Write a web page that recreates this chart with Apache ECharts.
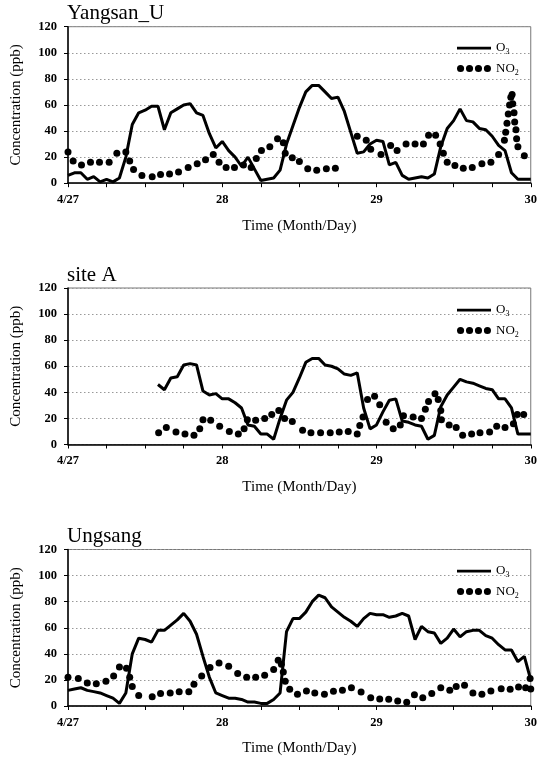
<!DOCTYPE html>
<html>
<head>
<meta charset="utf-8">
<script src="https://cdn.jsdelivr.net/npm/echarts@6/dist/echarts.min.js"></script>
<style>
html,body{margin:0;padding:0;background:#fff;}
#chart{width:540px;height:759px;}
</style>
</head>
<body>
<div id="chart"></div>
<script>
// ---------- DATA ----------
const panelTitles = ['Yangsan_U', 'site A', 'Ungsang'];
const xTickLabels = {0: '4/27', 24: '28', 48: '29', 72: '30'};   // hours since 4/27 00:00
const yTicks = [0, 20, 40, 60, 80, 100, 120];

// O3 hourly values (ppb); start hour for each site
const o3YangsanStart = 0;
const o3Yangsan = [6,8,8,3,5,1,3,1,4,20,45,54,56,59,59,41,54,57,60,61,54,52,38,27,
  32,25,20,13,20,11,2,3,4,10,30,44,58,70,75,75,70,65,66,55,39,23,24,30,
  33,32,14,16,6,3,4,5,4,7,28,42,48,57,48,47,42,41,36,29,25,8,3,3,3];

const o3SiteAStart = 14;
const o3SiteA = [46,42,51,52,61,62,61,41,38,39,
  35,35,32,28,15,14,8,8,4,20,34,40,51,63,66,66,61,60,58,54,53,55,28,12,
  15,25,34,35,18,17,15,14,4,7,29,38,44,50,48,47,45,43,42,35,35,28,8,8,8];

const o3UngsangStart = 0;
const o3Ungsang = [12,13,14,12,11,10,8,6,2,10,40,52,51,49,58,58,62,66,71,65,55,38,22,10,
  8,6,6,5,3,3,2,2,5,10,57,67,67,72,80,85,83,76,72,68,65,61,67,71,
  70,70,68,69,71,69,51,61,57,56,48,52,59,53,57,58,58,54,52,47,43,43,34,38,20];

// NO2 samples: time (hours since 4/27 00:00) and value (ppb)
const no2YangsanTime = [0,0.8,2.1,3.5,4.9,6.4,7.6,9.0,9.6,10.2,11.5,13.1,14.4,15.8,17.2,18.7,20.1,21.4,22.6,23.5,
  24.6,25.9,27.3,28.5,29.3,30.1,31.4,32.6,33.5,33.8,34.9,36.0,37.3,38.7,40.2,41.6,
  45.0,46.4,47.1,48.7,50.2,51.2,52.6,54.0,55.3,56.1,57.2,57.9,58.4,59.0,60.2,61.5,62.9,64.4,65.8,67.0,
  67.9,68.1,68.3,68.5,68.7,68.9,69.1,69.2,69.4,69.5,69.7,69.8,70.0,71.0];
const no2YangsanValue = [24,17,14,16,16,16,23,24,17,10.5,6,5,6.7,7,8.5,12,15,18,22,16,
  12,12,14,12,19,25,28,34,31,23,19.5,16.7,11,10,11,11.5,
  36,33,26,22,29,25,30,30,30,36.7,36.7,30,23,16,13.6,11.5,12,15,16,22,
  33,39,46,53,60,66,68,61,54,47,41,34,28,21];

const no2SiteATime = [14.1,15.3,16.8,18.2,19.6,20.5,21.0,22.2,23.6,25.1,26.5,27.4,27.9,29.2,30.6,31.7,32.8,33.7,34.9,
  36.5,37.8,39.3,40.8,42.2,43.6,45.0,45.4,45.9,46.6,47.7,48.5,49.5,50.6,51.7,52.2,53.7,55.0,55.6,56.1,57.1,57.6,58.0,58.1,
  59.3,60.4,61.4,62.8,64.1,65.6,66.7,68.0,69.3,69.9,70.9];
const no2SiteAValue = [9,13,9.5,8,7,12,19,18.5,14,10,8,12,19,18.5,20,23,26,20,17.7,
  11,9,9,9,9.5,10,8,14.6,21,34.6,37,30.5,17,12,15,22,21,20,27,33,39,34.6,26,19,
  15,13,7,8,9,9.5,14,13,16,23,23];

const no2UngsangTime = [0,1.6,3.0,4.4,5.9,7.1,8.0,9.1,9.6,10.0,11.0,13.1,14.4,15.9,17.3,18.8,19.6,20.8,22.1,23.5,
  25.0,26.4,27.8,29.2,30.6,32.0,32.7,33.2,33.5,33.8,34.5,35.7,37.1,38.4,39.9,41.3,42.7,44.1,45.6,47.1,
  48.5,49.9,51.3,52.7,53.9,55.2,56.6,58.0,59.4,60.4,61.7,63.0,64.4,65.8,67.4,68.8,70.1,71.2,71.9,72];
const no2UngsangValue = [22,21,17.7,17,19,23,30,29,22,15,8,7,9.5,10,11,11,16.7,23,29.5,33,
  30.5,25,22,22,23.6,28,35,32,26,19,12.8,9,11.5,10,9,11.3,12,14,10.8,6.4,
  5.4,5.1,3.8,2.8,8.7,6.4,9.5,14,12,15,16,10,9,11.5,13.3,12.8,14.6,14,21,13];

// ---------- BUILD ----------
function hourly(start, vals){ return vals.map((v,i)=>[start+i, v]); }
function pairs(t, v){ return t.map((x,i)=>[x, v[i]]); }

const panels = [
  {o3: hourly(o3YangsanStart, o3Yangsan), no2: pairs(no2YangsanTime, no2YangsanValue)},
  {o3: hourly(o3SiteAStart, o3SiteA),     no2: pairs(no2SiteATime, no2SiteAValue)},
  {o3: hourly(o3UngsangStart, o3Ungsang), no2: pairs(no2UngsangTime, no2UngsangValue)}
];

const SERIF = '"Liberation Serif", "Times New Roman", serif';
const gridTops = [26.7, 288, 549.5];
const gridH = 156.5;
const titleTops = [3, 265, 526];
const legendTops = [41.5, 303.5, 564.5];

const o3Icon = 'path://M0,0h0.01v0.01h-0.01z M0,2.8h34v2.6h-34z M33.99,7.99h0.01v0.01h-0.01z';
const no2Icon = 'path://M0.5,4a3.5,3.5 0 1,0 7,0a3.5,3.5 0 1,0 -7,0z M9.3,4a3.5,3.5 0 1,0 7,0a3.5,3.5 0 1,0 -7,0z M18.1,4a3.5,3.5 0 1,0 7,0a3.5,3.5 0 1,0 -7,0z M26.9,4a3.5,3.5 0 1,0 7,0a3.5,3.5 0 1,0 -7,0z';

const grid = [], xAxis = [], yAxis = [], series = [], title = [], legend = [];
panels.forEach((p, k) => {
  grid.push({left: 68, right: 6, top: gridTops[k], height: gridH, show: true,
    borderColor: '#777', borderWidth: 1, containLabel: false});
  title.push({text: panelTitles[k], left: 67, top: titleTops[k], padding: 0,
    textStyle: {fontFamily: SERIF, fontSize: 21, fontWeight: 'normal', color: '#000'}});
  legend.push({orient: 'vertical', left: 457, top: legendTops[k], padding: 0,
    itemWidth: 34, itemHeight: 8, itemGap: 6, selectedMode: false,
    data: [{name: 'O3', icon: o3Icon}, {name: 'NO2', icon: no2Icon}],
    formatter: n => n === 'O3' ? 'O{s|3}' : 'NO{s|2}',
    textStyle: {fontFamily: SERIF, fontSize: 13, color: '#000',
      rich: {s: {fontFamily: SERIF, fontSize: 8, color: '#000', padding: [8, 0, 0, 0]}}}});
  xAxis.push({type: 'value', gridIndex: k, min: 0, max: 72, interval: 6,
    name: 'Time (Month/Day)', nameLocation: 'middle', nameGap: 35,
    nameTextStyle: {fontFamily: SERIF, fontSize: 15, color: '#000'},
    axisLine: {onZero: false, lineStyle: {color: '#000', width: 1.5}},
    axisTick: {show: true, length: 4, lineStyle: {color: '#000'}},
    axisLabel: {fontFamily: SERIF, fontSize: 12.5, fontWeight: 'bold', color: '#000', margin: 10,
      showMinLabel: true, showMaxLabel: true,
      formatter: v => (xTickLabels[v] !== undefined ? xTickLabels[v] : '')},
    splitLine: {show: false}});
  yAxis.push({type: 'value', gridIndex: k, min: yTicks[0], max: yTicks[yTicks.length-1], interval: 20,
    name: 'Concentration (ppb)', nameLocation: 'middle', nameGap: 44,
    nameTextStyle: {fontFamily: SERIF, fontSize: 15, color: '#000'},
    axisLine: {show: true, lineStyle: {color: '#000', width: 1.5}},
    axisTick: {show: true, length: 4, lineStyle: {color: '#000'}},
    axisLabel: {fontFamily: SERIF, fontSize: 12.5, fontWeight: 'bold', color: '#000', margin: 11},
    splitLine: {show: true, lineStyle: {color: '#999', type: [1.5, 2.5], width: 1}}});
  series.push({name: 'O3', type: 'line', xAxisIndex: k, yAxisIndex: k, data: p.o3,
    showSymbol: false, symbol: 'none', color: '#000',
    lineStyle: {color: '#000', width: 3}, itemStyle: {color: '#000'}, animation: false, z: 3});
  series.push({name: 'NO2', type: 'scatter', xAxisIndex: k, yAxisIndex: k, data: p.no2,
    symbol: 'circle', symbolSize: 7, color: '#000', itemStyle: {color: '#000', opacity: 1}, animation: false, z: 4});
});

const chart = echarts.init(document.getElementById('chart'), null, {renderer: 'canvas'});
chart.setOption({backgroundColor: '#fff', animation: false, title, legend, grid, xAxis, yAxis, series});
</script>
</body>
</html>
